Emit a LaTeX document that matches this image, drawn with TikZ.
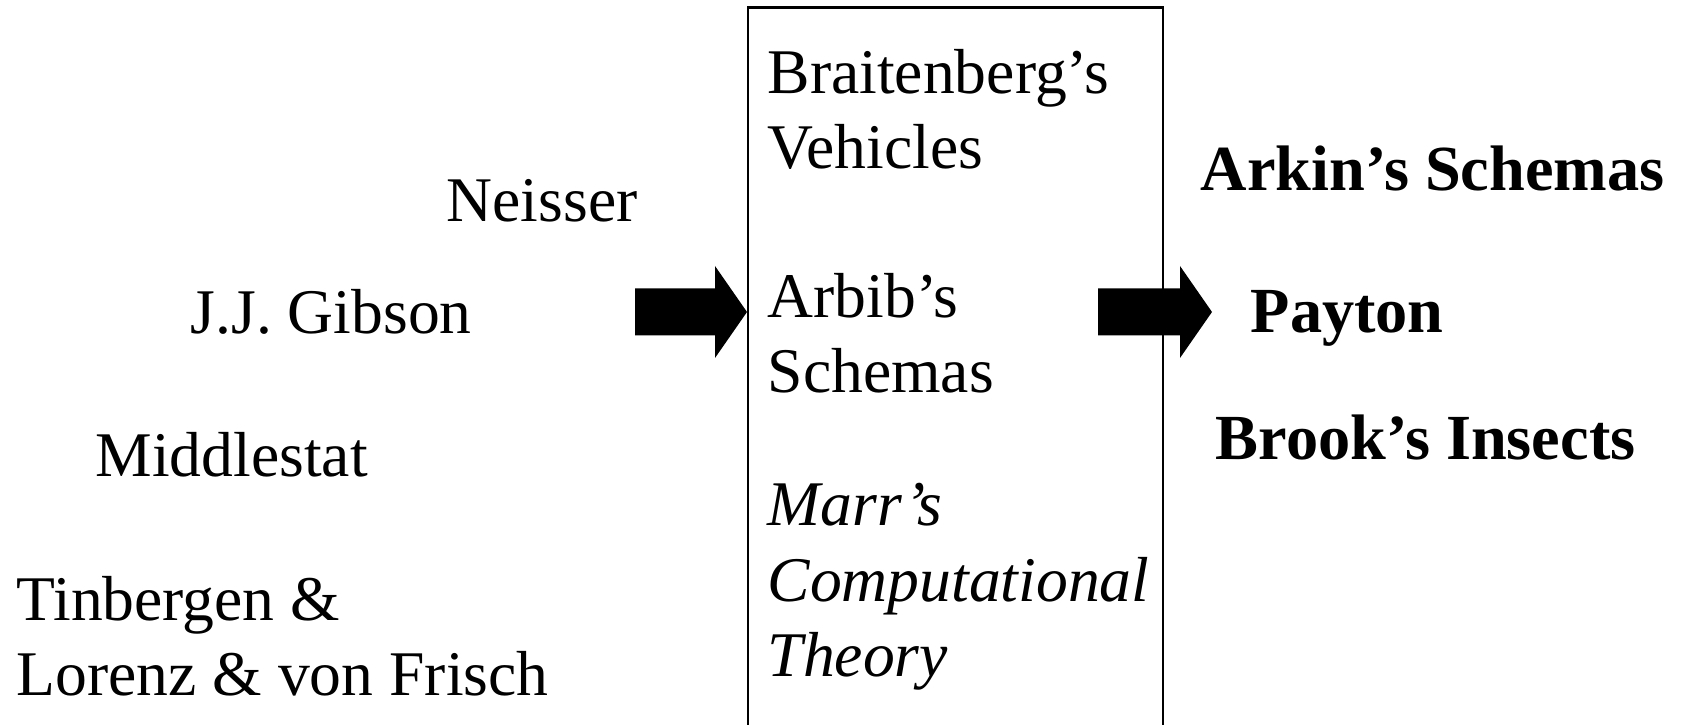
\documentclass[tikz,border=0pt]{standalone}
\usepackage{fontspec}
\setmainfont{Liberation Serif}
\begin{document}
\begin{tikzpicture}[
        every node/.style={inner sep=0pt, anchor=base west, align=left,
            font=\fontsize{18.1}{21.6}\selectfont},
        strong/.style={font=\fontsize{18.3}{21.6}\selectfont\bfseries},
        slanted/.style={font=\fontsize{18.1}{21.6}\selectfont\itshape}
    ]
    \useasboundingbox (0,0) rectangle (16.85,7.25);

    % left column (multi-line nodes sit on their last baseline)
    \node (neisser) at (4.46,5.03) {Neisser};
    \node (gibson) at (1.90,3.91) {J.J. Gibson};
    \node (middlestat) at (0.95,2.48) {Middlestat};
    \node (ethology) at (0.16,0.29) {Tinbergen \&\\Lorenz \& von Frisch};

    % middle box, open at the bottom
    \draw[line width=0.6pt] (7.48,0) -- (7.48,7.175) -- (11.63,7.175) -- (11.63,0);
    \node (vehicles) at (7.67,5.56) {Braitenberg’s\\Vehicles};
    \node (arbib) at (7.67,3.32) {Arbib’s\\Schemas};
    \node[slanted] (marr) at (7.67,0.48) {Marr’s\\Computational\\Theory};

    % right column
    \node[strong] (arkin) at (12.00,5.34) {Arkin’s Schemas};
    \node[strong] (payton) at (12.50,3.92) {Payton};
    \node[strong] (brooks) at (12.15,2.65) {Brook’s Insects};

    % block arrows
    \coordinate (intip) at (7.47,4.13);
    \coordinate (outtip) at (12.12,4.13);
    \foreach \t/\l in {intip/1.12,outtip/1.14}
    {
        \fill (\t) -- ++(-0.32,0.46) -- ++(0,-0.225) -- ++(-\l+0.32,0)
            -- ++(0,-0.47) -- ++(\l-0.32,0) -- ++(0,-0.225) -- cycle;
    }
\end{tikzpicture}
\end{document}
